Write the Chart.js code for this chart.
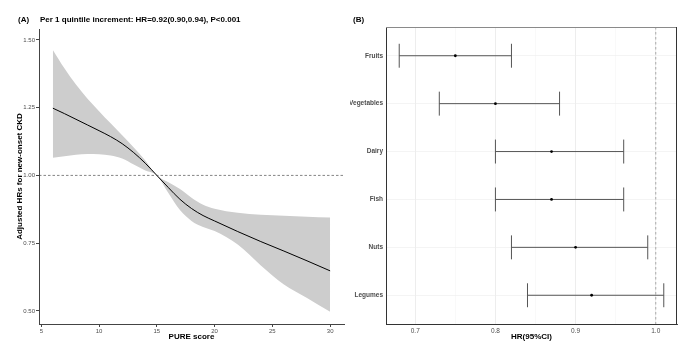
<!DOCTYPE html>
<html>
<head>
<meta charset="utf-8">
<script src="https://cdn.jsdelivr.net/npm/chart.js@4.4.0/dist/chart.umd.min.js"></script>
<style>
  html, body { margin: 0; padding: 0; background: #fff; }
  #wrap { position: relative; width: 697px; height: 358px; overflow: hidden; }
  .panel { position: absolute; top: 0; height: 358px; }
  #pa { left: 0; width: 350px; }
  #pb { left: 350px; width: 347px; }
</style>
</head>
<body>
<div id="wrap">
  <div class="panel" id="pa"><canvas id="chartA" width="350" height="358"></canvas></div>
  <div class="panel" id="pb"><canvas id="chartB" width="347" height="358"></canvas></div>
</div>
<script>
// ---- Dados: painel A (spline do PURE score) ----
const pureScore = [6, 7, 8, 9, 10, 11, 12, 13, 14, 15, 16, 17, 18, 19, 20, 22, 24, 26, 28, 30];
const hrFit   = [1.248, 1.228, 1.207, 1.186, 1.165, 1.143, 1.117, 1.084, 1.045, 1.000, 0.955, 0.912, 0.878, 0.852, 0.832, 0.793, 0.756, 0.721, 0.685, 0.648];
const hrLower = [1.065, 1.071, 1.076, 1.079, 1.078, 1.073, 1.062, 1.040, 1.018, 1.000, 0.935, 0.872, 0.832, 0.810, 0.795, 0.745, 0.668, 0.598, 0.548, 0.497];
const hrUpper = [1.463, 1.395, 1.335, 1.283, 1.237, 1.192, 1.148, 1.103, 1.055, 1.000, 0.975, 0.950, 0.918, 0.892, 0.877, 0.862, 0.855, 0.851, 0.848, 0.845];
const scoreTicks = [5, 10, 15, 20, 25, 30];
const hrTicksA = [0.5, 0.75, 1.0, 1.25, 1.5];
const refHR = 1.0;

// ---- Dados: painel B (forest plot por grupo alimentar) ----
const foods  = ['Fruits', 'Vegetables', 'Dairy', 'Fish', 'Nuts', 'Legumes'];
const foodHR = [0.75, 0.80, 0.87, 0.87, 0.90, 0.92];
const foodLo = [0.68, 0.73, 0.80, 0.80, 0.82, 0.84];
const foodHi = [0.82, 0.88, 0.96, 0.96, 0.99, 1.01];
const hrTicksB = [0.7, 0.8, 0.9, 1.0];
const hrMinorB = [0.75, 0.85, 0.95];

Chart.defaults.font.family = "'Liberation Sans', Arial, sans-serif";
Chart.defaults.animation = false;

const tickGrey = '#4d4d4d';

// título do painel
const panelTitle = {
  id: 'panelTitle',
  afterDraw(chart, args, opts) {
    const ctx = chart.ctx;
    ctx.save();
    ctx.fillStyle = '#000';
    ctx.font = "bold 8px 'Liberation Sans', Arial, sans-serif";
    ctx.textBaseline = 'middle';
    ctx.fillText(opts.tag, opts.tagX, opts.y);
    if (opts.text) ctx.fillText(opts.text, opts.textX, opts.y);
    ctx.restore();
  }
};

// linha tracejada em HR = 1 (painel A)
const refLineA = {
  id: 'refLineA',
  afterDatasetsDraw(chart) {
    const { ctx, chartArea } = chart;
    const y = chart.scales.y.getPixelForValue(refHR);
    ctx.save();
    ctx.strokeStyle = '#333';
    ctx.lineWidth = 0.6;
    ctx.setLineDash([2.5, 2]);
    ctx.beginPath();
    ctx.moveTo(chartArea.left, y);
    ctx.lineTo(chartArea.right, y);
    ctx.stroke();
    ctx.restore();
  }
};

new Chart(document.getElementById('chartA'), {
  type: 'line',
  data: {
    datasets: [
      {
        label: 'HR',
        data: pureScore.map((s, i) => ({ x: s, y: hrFit[i] })),
        borderColor: '#000',
        borderWidth: 1,
        pointRadius: 0,
        cubicInterpolationMode: 'monotone',
        fill: false
      },
      {
        label: 'lower',
        data: pureScore.map((s, i) => ({ x: s, y: hrLower[i] })),
        borderWidth: 0,
        borderColor: 'rgba(0,0,0,0)',
        pointRadius: 0,
        cubicInterpolationMode: 'monotone',
        fill: false
      },
      {
        label: 'upper',
        data: pureScore.map((s, i) => ({ x: s, y: hrUpper[i] })),
        borderWidth: 0,
        borderColor: 'rgba(0,0,0,0)',
        backgroundColor: '#cdcdcd',
        pointRadius: 0,
        cubicInterpolationMode: 'monotone',
        fill: 1
      }
    ]
  },
  options: {
    responsive: false,
    layout: { padding: { left: 0, right: 6, top: 29, bottom: 0 } },
    plugins: {
      legend: { display: false },
      tooltip: { enabled: false },
      panelTitle: { tag: '(A)', tagX: 18, textX: 40, y: 20,
        text: 'Per 1 quintile increment: HR=0.92(0.90,0.94), P<0.001' }
    },
    scales: {
      x: {
        type: 'linear',
        min: 4.8, max: 31.2,
        afterBuildTicks: s => { s.ticks = scoreTicks.map(v => ({ value: v })); },
        afterFit: s => { s.height = 34; },
        grid: { drawOnChartArea: false, tickLength: 3, color: '#444' },
        border: { color: '#444', width: 1 },
        ticks: { font: { size: 6 }, color: tickGrey, padding: 1, maxRotation: 0 },
        title: { display: true, text: 'PURE score', color: '#000',
          font: { size: 8, weight: 'bold' }, padding: { top: 0, bottom: 16 } }
      },
      y: {
        min: 0.452, max: 1.54,
        afterBuildTicks: s => { s.ticks = hrTicksA.map(v => ({ value: v })); },
        afterFit: s => { s.width = 39; },
        grid: { drawOnChartArea: false, tickLength: 3, color: '#444' },
        border: { color: '#444', width: 1 },
        ticks: { font: { size: 6 }, color: tickGrey, padding: 1, callback: v => v.toFixed(2) },
        title: { display: true, text: 'Adjusted HRs for new-onset CKD', color: '#000',
          font: { size: 8, weight: 'bold' }, padding: { top: 15, bottom: 0 } }
      }
    }
  },
  plugins: [panelTitle, refLineA]
});

// barras de erro e linha de referência (painel B)
const forestBars = {
  id: 'forestBars',
  beforeDatasetsDraw(chart) {
    const { ctx, chartArea } = chart;
    const xs = chart.scales.x, ys = chart.scales.y;
    ctx.save();
    // linha tracejada em HR = 1
    const xr = xs.getPixelForValue(refHR);
    ctx.strokeStyle = '#8c8c8c';
    ctx.lineWidth = 0.7;
    ctx.setLineDash([2.5, 2.5]);
    ctx.beginPath();
    ctx.moveTo(xr, chartArea.top);
    ctx.lineTo(xr, chartArea.bottom);
    ctx.stroke();
    ctx.setLineDash([]);
    ctx.strokeStyle = '#555';
    ctx.lineWidth = 1;
    foods.forEach((f, i) => {
      const y = ys.getPixelForValue(i + 1);
      const cap = Math.abs(ys.getPixelForValue(i + 1.25) - y);
      const x1 = xs.getPixelForValue(foodLo[i]);
      const x2 = xs.getPixelForValue(foodHi[i]);
      ctx.beginPath();
      ctx.moveTo(x1, y); ctx.lineTo(x2, y);
      ctx.moveTo(x1, y - cap); ctx.lineTo(x1, y + cap);
      ctx.moveTo(x2, y - cap); ctx.lineTo(x2, y + cap);
      ctx.stroke();
    });
    ctx.restore();
  },
  afterDraw(chart) {
    const { ctx, chartArea } = chart;
    ctx.save();
    ctx.lineWidth = 1;
    ctx.strokeStyle = '#8a8a8a';
    ctx.beginPath();
    ctx.moveTo(chartArea.left, chartArea.top + 0.5);
    ctx.lineTo(chartArea.right, chartArea.top + 0.5);
    ctx.stroke();
    ctx.strokeStyle = '#333';
    ctx.beginPath();
    ctx.moveTo(chartArea.right - 0.5, chartArea.top);
    ctx.lineTo(chartArea.right - 0.5, chartArea.bottom);
    ctx.stroke();
    ctx.restore();
  }
};

new Chart(document.getElementById('chartB'), {
  type: 'scatter',
  data: {
    datasets: [{
      label: 'HR',
      data: foods.map((f, i) => ({ x: foodHR[i], y: i + 1 })),
      backgroundColor: '#000',
      borderColor: '#000',
      pointRadius: 1.4,
      borderWidth: 0
    }]
  },
  options: {
    responsive: false,
    layout: { padding: { left: 0, right: 20, top: 27, bottom: 0 } },
    plugins: {
      legend: { display: false },
      tooltip: { enabled: false },
      panelTitle: { tag: '(B)', tagX: 3, y: 20 }
    },
    scales: {
      x: {
        type: 'linear',
        min: 0.6635, max: 1.0265,
        afterBuildTicks: s => {
          s.ticks = hrTicksB.concat(hrMinorB).sort((a, b) => a - b).map(v => ({ value: v }));
        },
        afterFit: s => { s.height = 34; },
        grid: {
          drawTicks: false,
          color: c => hrTicksB.includes(c.tick && c.tick.value) ? '#e8e8e8' : '#f3f3f3',
          lineWidth: c => hrTicksB.includes(c.tick && c.tick.value) ? 0.8 : 0.5
        },
        border: { color: '#333', width: 1 },
        ticks: {
          font: { size: 6.5 }, color: tickGrey, padding: 3, maxRotation: 0, autoSkip: false,
          callback: v => hrTicksB.includes(v) ? v.toFixed(1) : ''
        },
        title: { display: true, text: 'HR(95%CI)', color: '#000',
          font: { size: 8, weight: 'bold' }, padding: { top: 0, bottom: 16 } }
      },
      y: {
        type: 'linear',
        reverse: true,
        min: 0.4, max: 6.6,
        afterBuildTicks: s => { s.ticks = foods.map((f, i) => ({ value: i + 1 })); },
        afterFit: s => { s.width = 36; },
        grid: { drawTicks: false, color: '#ededed', lineWidth: 0.6 },
        border: { color: '#333', width: 1 },
        ticks: { font: { size: 6.5, weight: 'bold' }, color: tickGrey, padding: 3,
          callback: v => foods[v - 1] }
      }
    }
  },
  plugins: [panelTitle, forestBars]
});
</script>
</body>
</html>
